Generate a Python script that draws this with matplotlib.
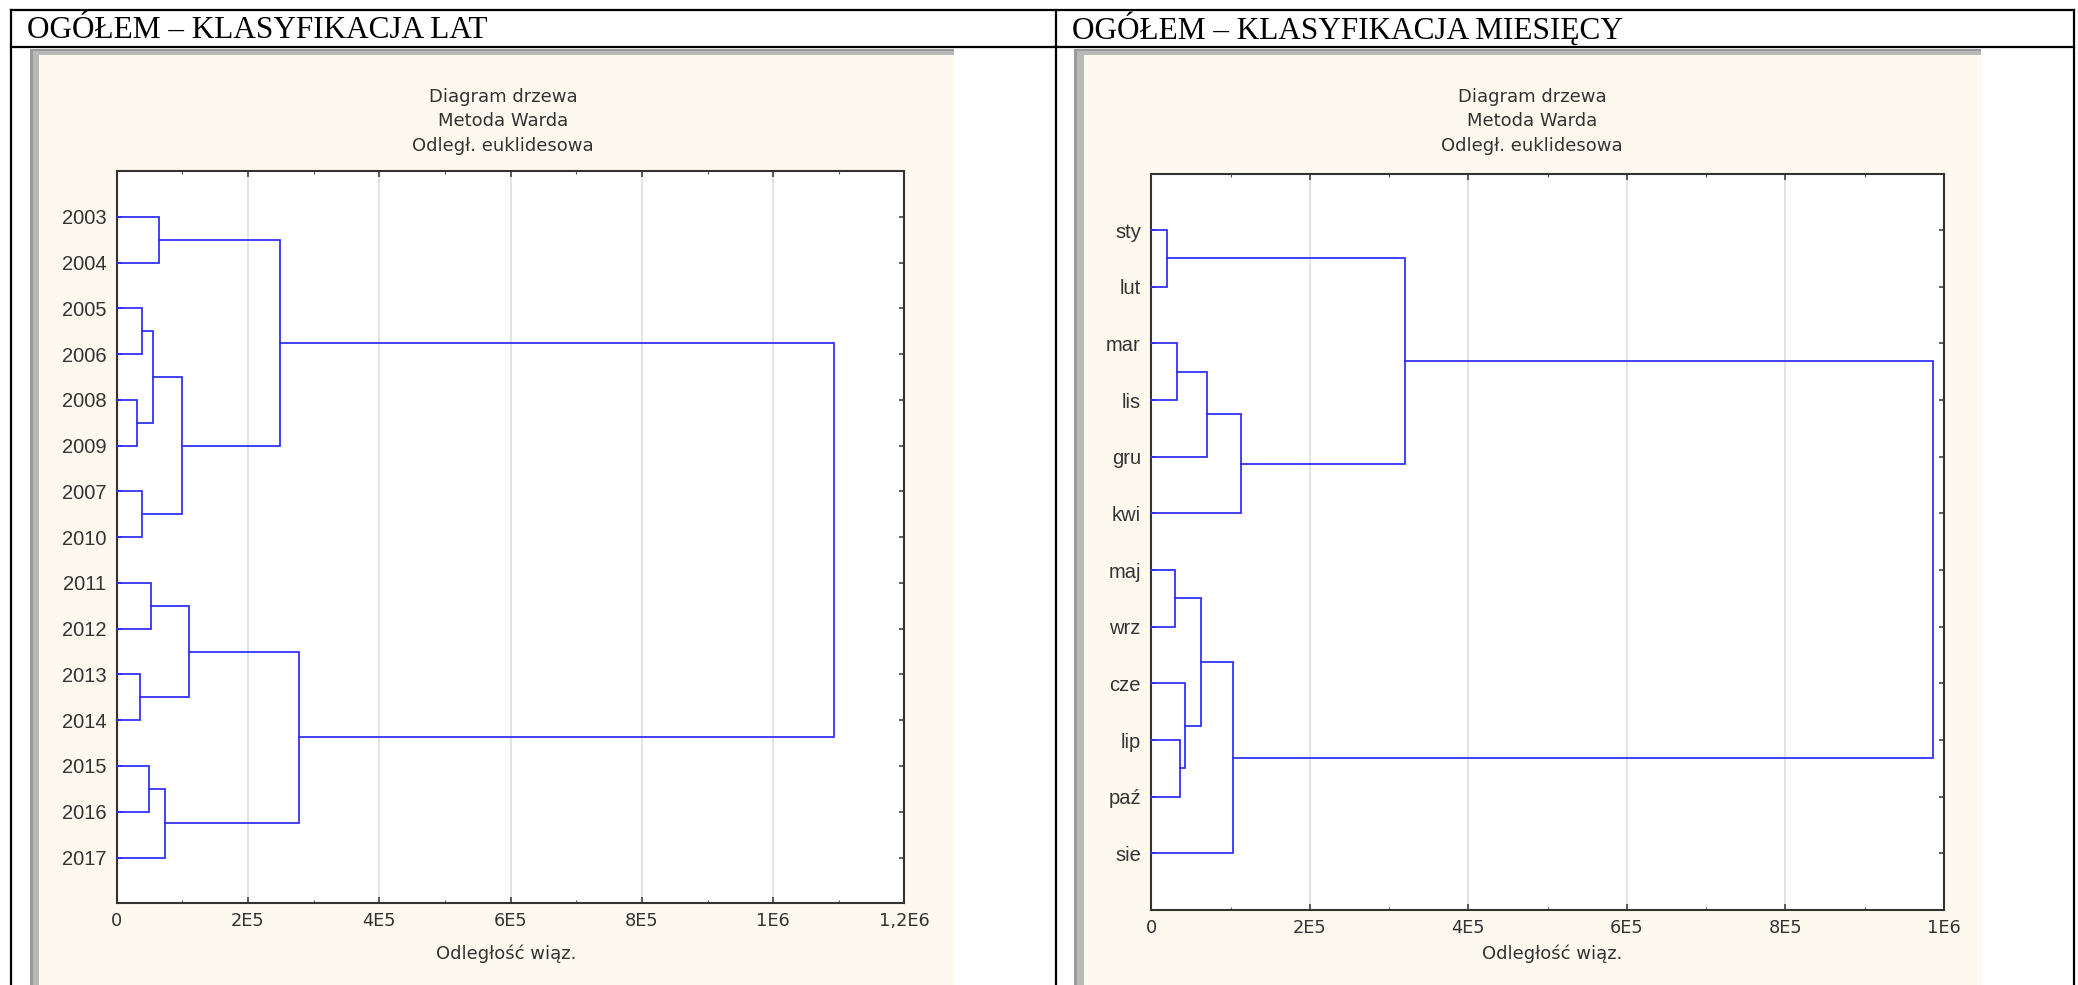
import matplotlib
matplotlib.use('Agg')
import matplotlib.pyplot as plt
from matplotlib.patches import Rectangle
from matplotlib.ticker import FixedLocator

W, H = 2078, 985
DPI = 100

# ---------------- data ----------------
year_labels = ['2003', '2004', '2005', '2006', '2008', '2009', '2007', '2010',
               '2011', '2012', '2013', '2014', '2015', '2016', '2017']
year_left = ['2003', '2005', '2008', 'c1', '2007', 'c3', 'c0',
             '2011', '2013', 'c7', '2015', 'c10', 'c9', 'c6']
year_right = ['2004', '2006', '2009', 'c2', '2010', 'c4', 'c5',
              '2012', '2014', 'c8', '2016', '2017', 'c11', 'c12']
year_height = [65000, 39000, 31000, 55000, 39000, 99500, 249000,
               52000, 36000, 110000, 49000, 73000, 278000, 1093000]
year_ticks = [0, 200000, 400000, 600000, 800000, 1000000, 1200000]
year_tick_labels = ['0', '2E5', '4E5', '6E5', '8E5', '1E6', '1,2E6']

month_labels = ['sty', 'lut', 'mar', 'lis', 'gru', 'kwi',
                'maj', 'wrz', 'cze', 'lip', 'paź', 'sie']
month_left = ['sty', 'mar', 'c1', 'c2', 'c0', 'maj', 'lip', 'cze', 'c5', 'c8', 'c4']
month_right = ['lut', 'lis', 'gru', 'kwi', 'c3', 'wrz', 'paź', 'c6', 'c7', 'sie', 'c9']
month_height = [19300, 32000, 70700, 113600, 319600, 30000, 36600, 43000,
                62200, 103100, 985500]
month_ticks = [0, 200000, 400000, 600000, 800000, 1000000]
month_tick_labels = ['0', '2E5', '4E5', '6E5', '8E5', '1E6']

panel_titles = ['OGÓŁEM – KLASYFIKACJA LAT', 'OGÓŁEM – KLASYFIKACJA MIESIĘCY']
chart_title_lines = ['Diagram drzewa', 'Metoda Warda', 'Odległ. euklidesowa']
x_label = 'Odległość wiąz.'

# ---------------- styles ----------------
BEIGE = '#fdf9ee'
GREY = '#9a9a9a'
TXT = '#333333'
BLUE = '#2a2aff'
SANS = 'Liberation Sans'
WIDE = 'DejaVu Sans'
SERIF = 'Liberation Serif'

fig = plt.figure(figsize=(W / DPI, H / DPI), dpi=DPI, facecolor='white')

# background layer in pixel coordinates
bg = fig.add_axes([0, 0, 1, 1])
bg.set_xlim(0, W)
bg.set_ylim(H, 0)
bg.axis('off')

# screenshot frames
for (gx0, bx0, bx1) in [(30, 39, 954), (1074, 1084, 1981)]:
    bg.add_patch(Rectangle((gx0, 49), bx1 - gx0, H - 49, facecolor=GREY, edgecolor='none'))
    bg.add_patch(Rectangle((gx0 + 3, 51), bx1 - gx0 - 3, H - 51, facecolor='#b8b8b8', edgecolor='none'))
    bg.add_patch(Rectangle((bx0, 55), bx1 - bx0, H - 55, facecolor=BEIGE, edgecolor='none'))

# table lines
tl = dict(color='black', lw=1.6, solid_capstyle='projecting')
bg.plot([11, 2074], [10, 10], **tl)
bg.plot([11, 2074], [47, 47], **tl)
for xv in [11, 1056, 2074]:
    bg.plot([xv, xv], [10, H], **tl)

# panel titles
for xt, t in zip([27, 1072], panel_titles):
    bg.text(xt, 38.5, t, family=SERIF, fontsize=22.5, color='black', va='baseline', ha='left')


def draw_dendro(ax, labels, left, right, height):
    pos = {lab: (i + 1, 0.0) for i, lab in enumerate(labels)}
    for k, (a, b, h) in enumerate(zip(left, right, height)):
        ya, ha = pos[a]
        yb, hb = pos[b]
        ax.plot([ha, h, h, hb], [ya, ya, yb, yb], color=BLUE, lw=1.25,
                solid_joinstyle='miter', zorder=3, clip_on=False)
        pos['c%d' % k] = ((ya + yb) / 2.0, h)


def setup_axes(rect_px, labels, left, right, height, ticks, tick_labels, title_x, xlabel_x):
    x0, x1, ytop, ybot = rect_px
    ax = fig.add_axes([x0 / W, 1 - ybot / H, (x1 - x0) / W, (ybot - ytop) / H])
    ax.set_facecolor('white')
    n = len(labels)
    ax.set_xlim(ticks[0], ticks[-1])
    ax.set_ylim(n + 1, 0)
    draw_dendro(ax, labels, left, right, height)
    for t in ticks[1:-1]:
        ax.axvline(t, color='#dcdcdc', lw=1.1, zorder=1)
    ax.xaxis.set_major_locator(FixedLocator(ticks))
    ax.set_xticklabels(tick_labels)
    minors = [(ticks[i] + ticks[i + 1]) / 2 for i in range(len(ticks) - 1)]
    ax.xaxis.set_minor_locator(FixedLocator(minors))
    ax.set_yticks(range(1, n + 1))
    ax.set_yticklabels(labels)
    ax.tick_params(axis='x', which='major', direction='in', top=True, bottom=True,
                   length=4, width=1.1, color='#333333', labelsize=12.8,
                   labelcolor=TXT, pad=6.5)
    ax.tick_params(axis='x', which='minor', direction='in', top=True, bottom=True,
                   length=2.5, width=0.8, color='#555555')
    ax.tick_params(axis='y', direction='in', left=True, right=True, length=3.5,
                   width=1.1, color='#333333', labelsize=14.5, labelcolor=TXT, pad=7.5)
    for lab in ax.get_xticklabels():
        lab.set_family(WIDE)
    for lab in ax.get_yticklabels():
        lab.set_family(SANS)
    for s in ax.spines.values():
        s.set_color('#333333')
        s.set_linewidth(1.5)
    # chart titles
    for yb, line in zip([101.5, 125.5, 151.0], chart_title_lines):
        bg.text(title_x, yb, line, family=WIDE, fontsize=13, color=TXT,
                ha='center', va='baseline')
    bg.text(xlabel_x, 959, x_label, family=WIDE, fontsize=13, color=TXT,
            ha='center', va='baseline')
    return ax


setup_axes((116.7, 904.5, 171.0, 903.3), year_labels, year_left, year_right,
           year_height, year_ticks, year_tick_labels, 503, 506)
setup_axes((1151.3, 1944.0, 173.5, 910.0), month_labels, month_left, month_right,
           month_height, month_ticks, month_tick_labels, 1532, 1552)

fig.savefig('out.png', dpi=DPI, facecolor='white')
